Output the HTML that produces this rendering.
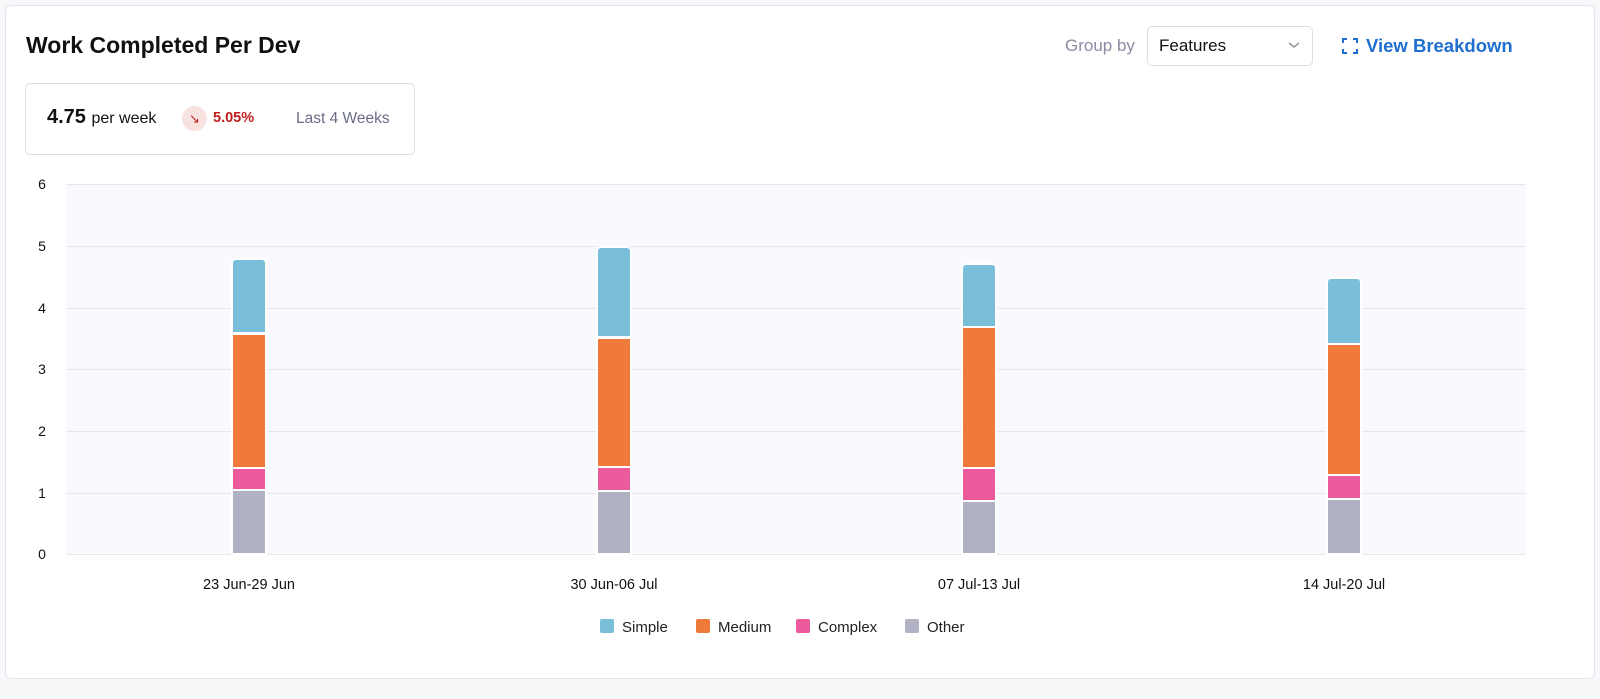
<!DOCTYPE html>
<html><head><meta charset="utf-8"><style>
body{margin:0;width:1600px;height:699px;background:#f7f8fa;font-family:"Liberation Sans",sans-serif;overflow:hidden;position:relative}
.card{position:absolute;left:5px;top:5px;width:1588px;height:672px;background:#fff;border:1px solid #e3e4ec;border-radius:6px}
.abs{position:absolute;white-space:nowrap}
</style></head><body>
<div class="card"></div>
<div class="abs" style="left:26px;top:32px;font-size:23px;font-weight:bold;color:#111">Work Completed Per Dev</div>
<div class="abs" style="left:1065px;top:36px;font-size:17px;color:#8a8ca3">Group by</div>
<div class="abs" style="left:1147px;top:26px;width:166px;height:40px;border:1px solid #dcdde6;border-radius:5px;box-sizing:border-box"></div>
<div class="abs" style="left:1159px;top:36px;font-size:17px;color:#111">Features</div>
<svg class="abs" style="left:1287px;top:40px" width="14" height="10"><path d="M2 3 L7 7 L12 3" stroke="#999" stroke-width="1.5" fill="none"/></svg>
<svg class="abs" style="left:1342px;top:38px" width="16" height="16"><path d="M1 5V1H5M11 1H15V5M15 11V15H11M5 15H1V11" stroke="#1f6fd1" stroke-width="2" fill="none"/></svg>
<div class="abs" style="left:1366px;top:35px;font-size:18.5px;font-weight:bold;color:#1f6fd1">View Breakdown</div>
<div class="abs" style="left:25px;top:83px;width:390px;height:72px;border:1px solid #dcdde6;border-radius:5px;box-sizing:border-box"></div>
<div class="abs" style="left:47px;top:106px;font-size:20px;font-weight:bold;color:#111">4.75 <span style="font-size:16px;font-weight:normal">per week</span></div>
<div class="abs" style="left:182px;top:106px;width:25px;height:25px;border-radius:50%;background:#f8e2e0;color:#c0201c;font-size:13px;text-align:center;line-height:25px">↘</div>
<div class="abs" style="left:213px;top:110px;font-size:14.5px;font-weight:bold;color:#c0201c">5.05%</div>
<div class="abs" style="left:296px;top:110px;font-size:15.5px;color:#6b6d85">Last 4 Weeks</div>
<svg class="abs" style="left:0;top:0" width="1600" height="699" font-family="Liberation Sans, sans-serif">
<rect x="66" y="184" width="1460" height="370" fill="#f9fafd"/>
<g stroke="#e6e7ec" stroke-width="1">
<line x1="66" x2="1526" y1="184.5" y2="184.5"/><line x1="66" x2="1526" y1="246.5" y2="246.5"/><line x1="66" x2="1526" y1="308.5" y2="308.5"/><line x1="66" x2="1526" y1="369.5" y2="369.5"/><line x1="66" x2="1526" y1="431.5" y2="431.5"/><line x1="66" x2="1526" y1="493.5" y2="493.5"/><line x1="66" x2="1526" y1="554.5" y2="554.5"/>
</g>
<g font-size="14" fill="#111" text-anchor="middle">
<text x="42" y="189">6</text><text x="42" y="251">5</text><text x="42" y="313">4</text><text x="42" y="374">3</text><text x="42" y="436">2</text><text x="42" y="498">1</text><text x="42" y="559">0</text>
<g font-size="14.5"><text x="249" y="589">23 Jun-29 Jun</text><text x="614" y="589">30 Jun-06 Jul</text><text x="979" y="589">07 Jul-13 Jul</text><text x="1344" y="589">14 Jul-20 Jul</text></g>
</g>
<g stroke="#fff" stroke-width="2">
<path d="M232 333V263a4 4 0 0 1 4-4h26a4 4 0 0 1 4 4V333Z" fill="#7abfd9"/><rect x="232" y="334" width="34" height="134" fill="#ef7a3a"/><rect x="232" y="468" width="34" height="22" fill="#eb5a9b"/><rect x="232" y="490" width="34" height="64" fill="#b0b1c2"/>
<path d="M597 337V251a4 4 0 0 1 4-4h26a4 4 0 0 1 4 4V337Z" fill="#7abfd9"/><rect x="597" y="338" width="34" height="129" fill="#ef7a3a"/><rect x="597" y="467" width="34" height="24" fill="#eb5a9b"/><rect x="597" y="491" width="34" height="63" fill="#b0b1c2"/>
<path d="M962 327V268a4 4 0 0 1 4-4h26a4 4 0 0 1 4 4V327Z" fill="#7abfd9"/><rect x="962" y="327" width="34" height="141" fill="#ef7a3a"/><rect x="962" y="468" width="34" height="33" fill="#eb5a9b"/><rect x="962" y="501" width="34" height="53" fill="#b0b1c2"/>
<path d="M1327 344V282a4 4 0 0 1 4-4h26a4 4 0 0 1 4 4V344Z" fill="#7abfd9"/><rect x="1327" y="344" width="34" height="131" fill="#ef7a3a"/><rect x="1327" y="475" width="34" height="24" fill="#eb5a9b"/><rect x="1327" y="499" width="34" height="55" fill="#b0b1c2"/>
</g>
<g font-size="15" fill="#222">
<rect x="600" y="619" width="14" height="14" rx="2" fill="#7abfd9"/><text x="622" y="632">Simple</text>
<rect x="696" y="619" width="14" height="14" rx="2" fill="#ef7a3a"/><text x="718" y="632">Medium</text>
<rect x="796" y="619" width="14" height="14" rx="2" fill="#eb5a9b"/><text x="818" y="632">Complex</text>
<rect x="905" y="619" width="14" height="14" rx="2" fill="#b0b1c2"/><text x="927" y="632">Other</text>
</g>
</svg>
</body></html>
